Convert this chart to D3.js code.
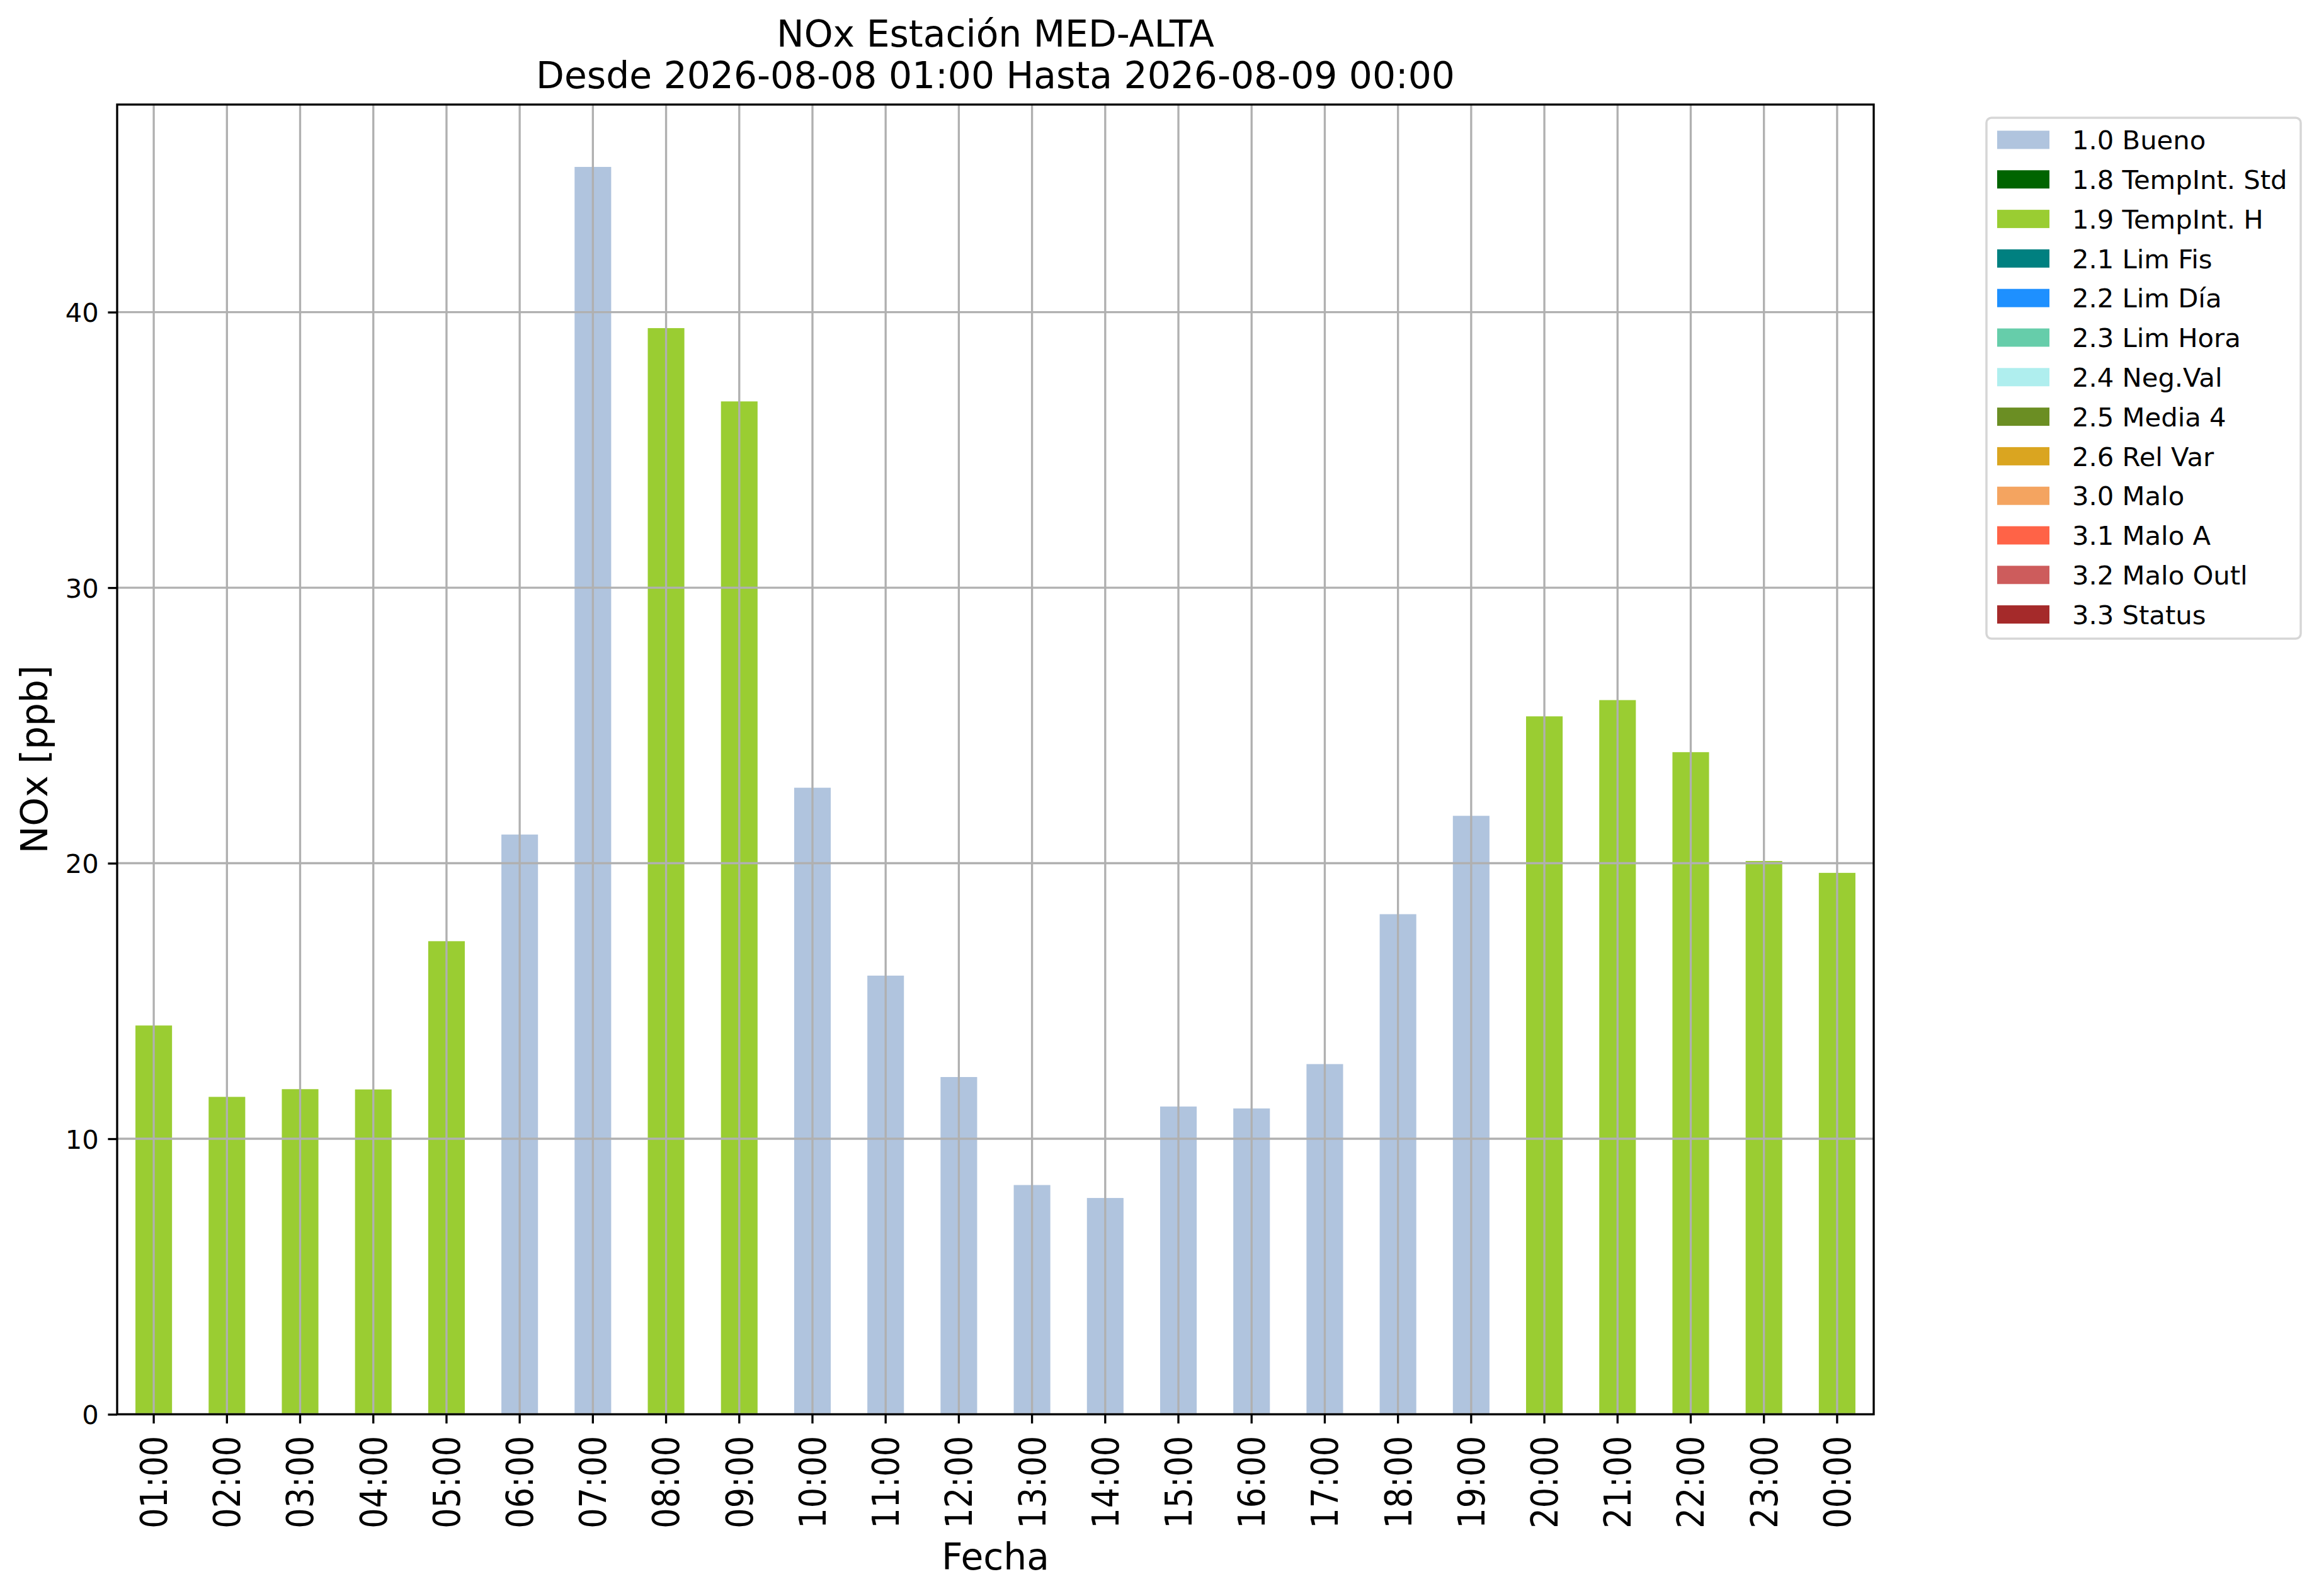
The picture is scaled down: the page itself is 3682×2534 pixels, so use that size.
<!DOCTYPE html>
<html>
<head>
<meta charset="utf-8">
<script src="https://cdn.jsdelivr.net/npm/d3@7"></script>
<style>
  body { margin: 0; background: #fff; }
  svg { display: block; font-family: "DejaVu Sans", sans-serif; }
</style>
</head>
<body>
<svg id="chart"></svg>
<script>
// hourly NOx values, one flag per hour
const hours = ["01:00", "02:00", "03:00", "04:00", "05:00", "06:00", "07:00", "08:00",
  "09:00", "10:00", "11:00", "12:00", "13:00", "14:00", "15:00", "16:00",
  "17:00", "18:00", "19:00", "20:00", "21:00", "22:00", "23:00", "00:00"];
const nox = [14.11, 11.52, 11.80, 11.79, 17.17, 21.04, 45.27, 39.42,
  36.76, 22.74, 15.92, 12.24, 8.32, 7.85, 11.17, 11.10,
  12.71, 18.15, 21.72, 25.33, 25.92, 24.03, 20.08, 19.65];
const flags = ["1.9 TempInt. H", "1.9 TempInt. H", "1.9 TempInt. H", "1.9 TempInt. H", "1.9 TempInt. H",
  "1.0 Bueno", "1.0 Bueno", "1.9 TempInt. H", "1.9 TempInt. H",
  "1.0 Bueno", "1.0 Bueno", "1.0 Bueno", "1.0 Bueno", "1.0 Bueno", "1.0 Bueno",
  "1.0 Bueno", "1.0 Bueno", "1.0 Bueno", "1.0 Bueno",
  "1.9 TempInt. H", "1.9 TempInt. H", "1.9 TempInt. H", "1.9 TempInt. H", "1.9 TempInt. H"];
const categories = ["1.0 Bueno", "1.8 TempInt. Std", "1.9 TempInt. H", "2.1 Lim Fis",
  "2.2 Lim Día", "2.3 Lim Hora", "2.4 Neg.Val", "2.5 Media 4", "2.6 Rel Var",
  "3.0 Malo", "3.1 Malo A", "3.2 Malo Outl", "3.3 Status"];
const yTicks = [0, 10, 20, 30, 40];
const titleLines = ["NOx Estación MED-ALTA", "Desde 2026-08-08 01:00 Hasta 2026-08-09 00:00"];

const layout = {
  width: 3682,
  height: 2534,
  plot: { left: 186, right: 2975, top: 166, bottom: 2245.5 },
  palette: ["#b0c4de", "#006400", "#9acd32", "#008080", "#1e90ff", "#66cdaa",
    "#afeeee", "#6b8e23", "#daa520", "#f4a460", "#ff6347", "#cd5c5c", "#a52a2a"],
  small: 41.7,
  big: 58.3,
  xtick: 51,
  lw: 3.33,
  tick: 14.6,
};

function draw() {
  const { width, height, plot, palette, small, big, xtick, lw, tick } = layout;
  const svg = d3.select("#chart").attr("width", width).attr("height", height);

  const x = d3.scaleBand().domain(hours).range([plot.left, plot.right]).paddingInner(0.5).paddingOuter(0.25);
  const y = d3.scaleLinear().domain([0, d3.max(nox) * 1.05]).range([plot.bottom, plot.top]);
  const color = d3.scaleOrdinal().domain(categories).range(palette);
  const cx = (h) => x(h) + x.bandwidth() / 2;

  // bars
  svg.append("g")
    .selectAll("rect")
    .data(hours)
    .join("rect")
    .attr("x", (h) => x(h))
    .attr("width", x.bandwidth())
    .attr("y", (h, i) => y(nox[i]))
    .attr("height", (h, i) => y(0) - y(nox[i]))
    .attr("fill", (h, i) => color(flags[i]));

  // grid (drawn over the bars)
  const grid = svg.append("g").attr("stroke", "#b0b0b0").attr("stroke-width", lw);
  grid.selectAll("line.v")
    .data(hours)
    .join("line")
    .attr("class", "v")
    .attr("x1", cx).attr("x2", cx)
    .attr("y1", plot.top).attr("y2", plot.bottom);
  grid.selectAll("line.h")
    .data(yTicks)
    .join("line")
    .attr("class", "h")
    .attr("x1", plot.left).attr("x2", plot.right)
    .attr("y1", (d) => y(d)).attr("y2", (d) => y(d));

  // frame
  svg.append("rect")
    .attr("x", plot.left).attr("y", plot.top)
    .attr("width", plot.right - plot.left).attr("height", plot.bottom - plot.top)
    .attr("fill", "none").attr("stroke", "#000").attr("stroke-width", lw);

  // y axis
  const yAxis = svg.append("g")
    .attr("transform", `translate(${plot.left},0)`)
    .call(d3.axisLeft(y).tickValues(yTicks).tickSize(tick).tickPadding(tick).tickFormat(d3.format("d")));
  yAxis.select(".domain").remove();
  yAxis.selectAll(".tick line").attr("stroke-width", lw);
  yAxis.selectAll(".tick text")
    .attr("font-size", small)
    .attr("font-family", "DejaVu Sans")
    .attr("dy", small * 0.3645);

  // x axis
  const xAxis = svg.append("g")
    .attr("transform", `translate(0,${plot.bottom})`)
    .call(d3.axisBottom(x).tickSize(tick).tickPadding(0));
  xAxis.select(".domain").remove();
  xAxis.selectAll(".tick line").attr("stroke-width", lw);
  xAxis.selectAll(".tick text")
    .attr("font-size", xtick)
    .attr("font-family", "DejaVu Sans")
    .attr("text-anchor", "end")
    .attr("dy", null)
    .attr("y", null)
    .attr("transform", `translate(${xtick * 0.41},${tick + tick + 5}) rotate(-90) scale(1,1.14)`);

  // axis labels
  svg.append("text")
    .attr("transform", `translate(75,${(plot.top + plot.bottom) / 2}) rotate(-90)`)
    .attr("text-anchor", "middle")
    .attr("font-size", big)
    .text("NOx [ppb]");
  svg.append("text")
    .attr("x", (plot.left + plot.right) / 2)
    .attr("y", 2492)
    .attr("text-anchor", "middle")
    .attr("font-size", big)
    .text("Fecha");

  // title
  svg.append("g")
    .selectAll("text")
    .data(titleLines)
    .join("text")
    .attr("x", (plot.left + plot.right) / 2)
    .attr("y", (d, i) => 74 + i * 66)
    .attr("text-anchor", "middle")
    .attr("font-size", big)
    .text((d) => d);

  // legend
  const legend = svg.append("g").attr("transform", "translate(3154,187)");
  legend.append("rect")
    .attr("width", 499).attr("height", 827)
    .attr("rx", 8).attr("ry", 8)
    .attr("fill", "#fff").attr("stroke", "#d6d6d6").attr("stroke-width", 3.5);
  const row = legend.selectAll("g.item")
    .data(categories)
    .join("g")
    .attr("class", "item")
    .attr("transform", (d, i) => `translate(0,${35 + i * 62.8})`);
  row.append("rect")
    .attr("x", 17).attr("y", -14.5)
    .attr("width", 83).attr("height", 29)
    .attr("fill", (d) => color(d));
  row.append("text")
    .attr("x", 136)
    .attr("y", small * 0.3645)
    .attr("font-size", small)
    .text((d) => d);
}

draw();
</script>
</body>
</html>
